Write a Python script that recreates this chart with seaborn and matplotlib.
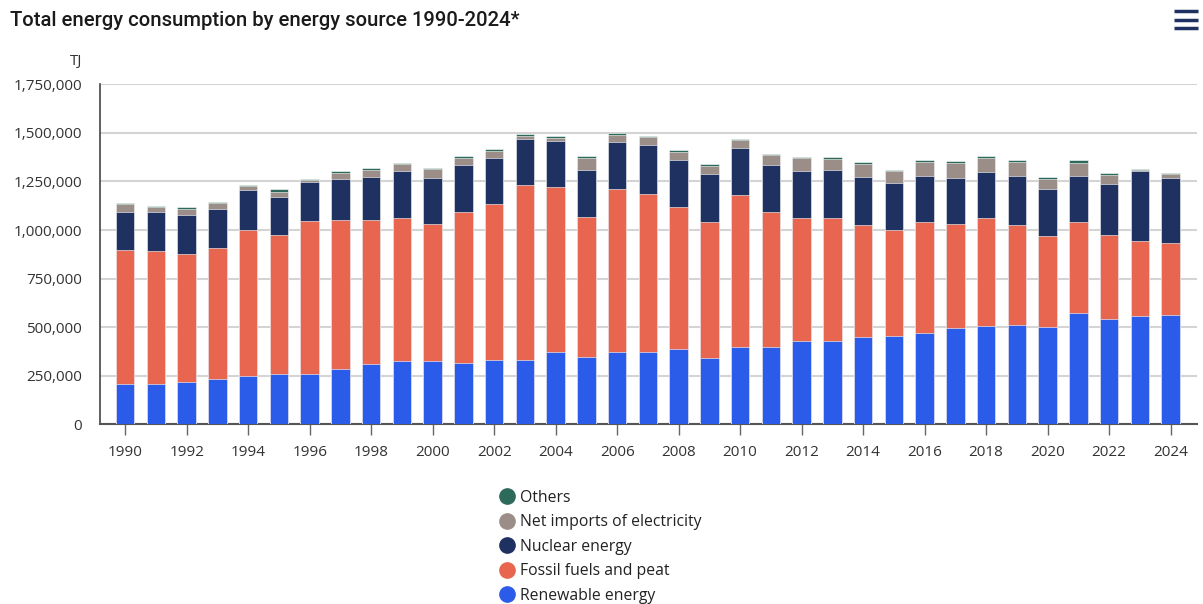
import matplotlib
matplotlib.use("Agg")
import matplotlib.pyplot as plt
from matplotlib.lines import Line2D
import seaborn as sns
import numpy as np
import pandas as pd

years = list(range(1990, 2025))
renewable = [210, 210, 216, 233, 250, 260, 260, 287, 310, 327, 327, 315, 332, 332, 370, 347, 370, 370, 387, 342,
             397, 397, 431, 431, 447, 457, 469, 496, 506, 512, 501, 573, 541, 556, 563]
fossil = [687, 681, 663, 676, 751, 714, 785, 764, 741, 734, 706, 778, 801, 900, 850, 719, 840, 817, 729, 697,
          784, 696, 630, 630, 581, 544, 570, 537, 555, 516, 466, 466, 431, 388, 369]
nuclear = [196, 202, 199, 201, 204, 196, 202, 212, 224, 241, 237, 242, 236, 236, 238, 243, 243, 249, 243, 248,
           243, 243, 241, 248, 247, 241, 241, 237, 236, 252, 243, 241, 265, 358, 338]
net_imports = [40, 23, 32, 28, 20, 28, 9, 29, 34, 38, 44, 36, 37, 17, 15, 62, 37, 44, 42, 44,
               39, 50, 69, 55, 66, 60, 72, 75, 72, 72, 54, 67, 45, 7, 17]
others = [5, 6, 7, 7, 7, 12, 8, 10, 10, 7, 5, 10, 12, 10, 12, 10, 11, 5, 12, 7,
          5, 5, 3, 10, 7, 7, 7, 8, 12, 7, 11, 12, 10, 5, 5]

series_names = ["Renewable energy", "Fossil fuels and peat", "Nuclear energy",
                "Net imports of electricity", "Others"]
colors = {"Renewable energy": "#2b5ce9", "Fossil fuels and peat": "#e8654f",
          "Nuclear energy": "#1f3160", "Net imports of electricity": "#9b8d87",
          "Others": "#2e6a5c"}

df = pd.DataFrame({"year": [str(y) for y in years],
                   "Renewable energy": np.array(renewable) * 1000,
                   "Fossil fuels and peat": np.array(fossil) * 1000,
                   "Nuclear energy": np.array(nuclear) * 1000,
                   "Net imports of electricity": np.array(net_imports) * 1000,
                   "Others": np.array(others) * 1000})
cum = df[series_names].cumsum(axis=1)

sns.set_theme(style="white")
plt.rcParams['font.family'] = ['Open Sans', 'DejaVu Sans']

fig = plt.figure(figsize=(12.03, 6.04), dpi=100)
ax = fig.add_axes([100/1203, 1-424.3/604, (1197-100)/1203, (424.3-84.3)/604])

for name in reversed(series_names):
    sns.barplot(x=df["year"], y=cum[name], color=colors[name], width=0.6,
                edgecolor="white", linewidth=0.4, ax=ax, zorder=3, saturation=1)

ax.set_xlim(-0.82, 34.86)
ax.set_ylim(0, 1750000)
yt = np.arange(0, 1750001, 250000)
ax.set_yticks(yt)
ax.set_yticklabels([f"{v:,}" for v in yt], fontsize=11, color="#333333")
ax.yaxis.grid(True, color="#d4d4d4", linewidth=1.5, zorder=0)
ax.set_axisbelow(True)
ax.set_xticks(range(0, 35, 2))
ax.set_xticklabels([str(y) for y in years[::2]], fontsize=11, color="#333333")
ax.tick_params(axis="x", length=8, width=1, color="#666666", pad=7, bottom=True)
ax.tick_params(axis="y", length=0, pad=13)
ax.set_xlabel("")
ax.set_ylabel("")
for s in ["top", "right"]:
    ax.spines[s].set_visible(False)
ax.spines["left"].set_color("#444444")
ax.spines["left"].set_linewidth(1.2)
ax.spines["bottom"].set_color("#555555")
ax.spines["bottom"].set_linewidth(1.5)

fig.text(82/1203, 1-62/604, "TJ", ha="right", va="center", fontsize=11, color="#333333")
fig.text(10/1203, 1-21/604, "Total energy consumption by energy source 1990-2024*",
         ha="left", va="center", fontsize=14.6, fontweight="medium", color="#1a1a1a",
         family=["Roboto", "DejaVu Sans"])

# hamburger menu icon
for yy in [11, 19.5, 28]:
    fig.add_artist(Line2D([1174/1203, 1198/1203], [1-yy/604, 1-yy/604],
                          color="#1f3160", linewidth=2.5, solid_capstyle="butt"))

handles = [Line2D([0], [0], marker="o", linestyle="", markersize=11,
                  markerfacecolor=colors[n], markeredgecolor=colors[n])
           for n in reversed(series_names)]
fig.legend(handles, list(reversed(series_names)), loc="upper left",
           bbox_to_anchor=(487/1203, 1-482/604), frameon=False, fontsize=11.3,
           handletextpad=0.1, labelspacing=0.54, borderpad=0, handlelength=1.5,
           labelcolor="#222222")

fig.savefig("out.png", dpi=100)
